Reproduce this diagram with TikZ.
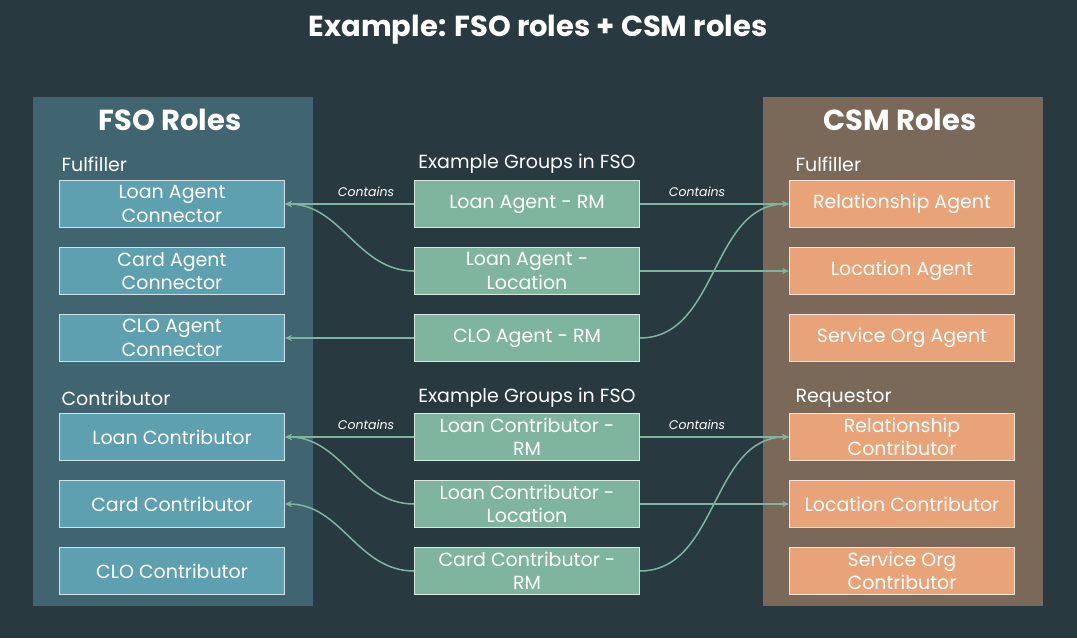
\documentclass[tikz,border=0pt]{standalone}
\usepackage{fontspec}
\setmainfont{Poppins}
\usetikzlibrary{arrows.meta}
\definecolor{bgdark}{HTML}{283A40}
\definecolor{fsopanel}{HTML}{406470}
\definecolor{csmpanel}{HTML}{7A6858}
\definecolor{fsobox}{HTML}{5FA0B0}
\definecolor{grpbox}{HTML}{7FB59F}
\definecolor{csmbox}{HTML}{E8A478}
\tikzset{
  role/.style={draw=white!70!#1, fill=#1, line width=0.8pt, minimum width=225pt, minimum height=47pt,
    text=white, align=center, font=\fontsize{19}{23.5}\selectfont, inner sep=1pt},
  head/.style={text=white, font=\bfseries\fontsize{29}{33}\selectfont},
  sub/.style={text=white, anchor=west, font=\fontsize{19}{22}\selectfont},
  tag/.style={text=white, font=\itshape\fontsize{12.5}{14}\selectfont},
  link/.style={grpbox, line width=1.5pt, -{Stealth[length=7pt,width=6pt]}},
}
\begin{document}
\begin{tikzpicture}[x=1pt, y=-1pt]
\fill[bgdark] (0,0) rectangle (1077,638);
\useasboundingbox (0,0) rectangle (1077,638);
\fill[fsopanel] (33,97) rectangle (313,606);
\fill[csmpanel] (763,97) rectangle (1043,606);
\node[head] (title) at (538,30) {Example: FSO roles + CSM roles};
\node[head] (fso) at (170,120) {FSO Roles};
\node[head] (csm) at (900,120) {CSM Roles};
\node[sub] (ful1) at (58,164) {Fulfiller};
\node[sub] (con1) at (58,398) {Contributor};
\node[sub] (ful2) at (792,164) {Fulfiller};
\node[sub] (req2) at (792,398) {Requestor};
\node[sub, anchor=center] (grp1) at (527,164) {Example Groups in FSO};
\node[sub, anchor=center] (grp2) at (527,398) {Example Groups in FSO};
% FSO roles
\node[role=fsobox] (fa) at (172,204) {Loan Agent\\Connector};
\node[role=fsobox] (fb) at (172,271) {Card Agent\\Connector};
\node[role=fsobox] (fc) at (172,338) {CLO Agent\\Connector};
\node[role=fsobox] (fd) at (172,437) {Loan Contributor};
\node[role=fsobox] (fe) at (172,504) {Card Contributor};
\node[role=fsobox] (ff) at (172,571) {CLO Contributor};
% groups
\node[role=grpbox] (ga) at (527,204) {Loan Agent - RM};
\node[role=grpbox] (gb) at (527,271) {Loan Agent -\\Location};
\node[role=grpbox] (gc) at (527,338) {CLO Agent - RM};
\node[role=grpbox] (gd) at (527,437) {Loan Contributor -\\RM};
\node[role=grpbox] (ge) at (527,504) {Loan Contributor -\\Location};
\node[role=grpbox] (gf) at (527,571) {Card Contributor -\\RM};
% CSM roles
\node[role=csmbox] (ca) at (902,204) {Relationship Agent};
\node[role=csmbox] (cb) at (902,271) {Location Agent};
\node[role=csmbox] (cc) at (902,338) {Service Org Agent};
\node[role=csmbox] (cd) at (902,437) {Relationship\\Contributor};
\node[role=csmbox] (ce) at (902,504) {Location Contributor};
\node[role=csmbox] (cf) at (902,571) {Service Org\\Contributor};
% labels
\node[tag] (t1) at (366,192) {Contains};
\node[tag] (t2) at (697,192) {Contains};
\node[tag] (t3) at (366,425) {Contains};
\node[tag] (t4) at (697,425) {Contains};
% links
\draw[link] (ga.west) -- (fa.east);
\draw[link] (ga.east) -- (ca.west);
\draw[link] (gb.west) to[out=180, in=0] (fa.east);
\draw[link] (gb.east) -- (cb.west);
\draw[link] (gc.west) -- (fc.east);
\draw[link] (gc.east) to[out=0, in=180] (ca.west);
\draw[link] (gd.west) -- (fd.east);
\draw[link] (gd.east) -- (cd.west);
\draw[link] (ge.west) to[out=180, in=0] (fd.east);
\draw[link] (ge.east) -- (ce.west);
\draw[link] (gf.west) to[out=180, in=0] (fe.east);
\draw[link] (gf.east) to[out=0, in=180] (cd.west);
\end{tikzpicture}
\end{document}
